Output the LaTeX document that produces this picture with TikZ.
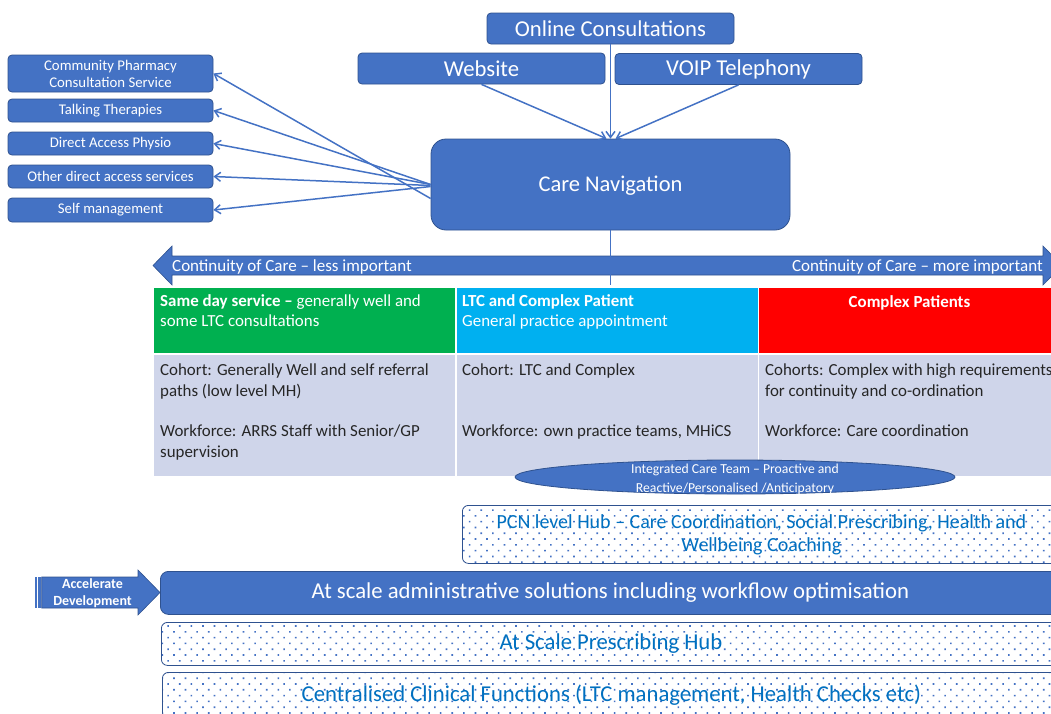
\documentclass[tikz,border=0pt]{standalone}
\usepackage{fontspec}
\setmainfont{Carlito}
\usetikzlibrary{arrows.meta,shapes.geometric,patterns.meta,calc}
\definecolor{mblue}{HTML}{4472C4}
\definecolor{dblue}{HTML}{2F528F}
\definecolor{tblue}{HTML}{0070C0}
\definecolor{cgreen}{HTML}{00B050}
\definecolor{ccyan}{HTML}{00B0F0}
\definecolor{cred}{HTML}{FF0000}
\definecolor{cgray}{HTML}{CFD5EA}
\newcommand{\fsz}[2]{\fontsize{#1}{#2}\selectfont}
\tikzset{
  bluebox/.style={draw=dblue, fill=mblue, rounded corners=4pt, text=white, line width=0.8pt, inner sep=0pt},
  leftbox/.style={bluebox, minimum width=205pt, font=\fsz{14.8}{17}, align=center},
  topbox/.style={bluebox, minimum width=247pt, minimum height=31pt, font=\fsz{22.7}{26}},
  conn/.style={draw=mblue, line width=1.5pt, -{Straight Barb[length=6pt,width=9pt]}},
  plainline/.style={draw=mblue, line width=1.5pt},
  dotbox/.style={draw=dblue, rounded corners=6pt, line width=0.8pt, pattern={Dots[distance=8.2pt,radius=1.15pt,angle=45]}, pattern color=mblue, text=tblue, inner sep=0pt, anchor=north west, align=center},
  celltext/.style={anchor=north west, inner sep=0pt, align=left, font=\fsz{16.9}{20.3}},
  arrowshape/.style={fill=mblue, draw=dblue, line width=0.6pt},
}
\begin{document}
\begin{tikzpicture}[x=1pt,y=-1pt]
\useasboundingbox (0,0) rectangle (1051,713);
\clip (0,0) rectangle (1051,713);

% top boxes
\node[topbox] (oc) at (610.5,28.5) {Online Consultations};
\node[topbox] (ws) at (481.5,68.5) {Website};
\node[topbox] (voip) at (738.5,69) {VOIP Telephony};
\node[bluebox, rounded corners=15pt, minimum width=359pt, minimum height=91pt, font=\fsz{22.5}{26}, text depth=2pt] (cn) at (610.5,184.5) {Care Navigation};

% left boxes
\node[leftbox, minimum height=37pt] (cp) at (110.5,73.5) {Community Pharmacy\\Consultation Service};
\node[leftbox, minimum height=23pt] (tt) at (110.5,110.5) {Talking Therapies};
\node[leftbox, minimum height=23pt] (dap) at (110.5,143.5) {Direct Access Physio};
\node[leftbox, minimum height=23pt] (oda) at (110.5,176.5) {Other direct access services};
\node[leftbox, minimum height=24pt] (sm) at (110.5,210) {Self management};

% connectors
\draw[conn] (oc.south) -- (cn.north);
\draw[conn] (ws.south) -- ([xshift=-4pt]cn.north);
\draw[conn] (voip.south) -- ([xshift=5pt]cn.north);
\draw[conn] ([yshift=-14pt]cn.west) -- (cp.east);
\draw[conn] (cn.west) -- (tt.east);
\draw[conn] (cn.west) -- (dap.east);
\draw[conn] ([yshift=-1pt]cn.west) -- (oda.east);
\draw[conn] ([yshift=-2pt]cn.west) -- (sm.east);

% continuity double arrow
\draw[arrowshape] (153,265.5) -- (172,246) -- (172,256) -- (1043,256) -- (1043,246) -- (1062,265.5) -- (1043,285) -- (1043,275) -- (172,275) -- (172,285) -- cycle;
\node[anchor=base west, inner sep=0pt, text=white, font=\fsz{17}{20}] (cl) at (172,271) {Continuity of Care – less important};
\node[anchor=base east, inner sep=0pt, text=white, font=\fsz{17}{20}] (cr) at (1043,271) {Continuity of Care – more important};
\coordinate (cnd) at (610.5,285);
\draw[plainline] (cn.south) -- (cnd);

% table cells
\fill[cgreen] (154,288) rectangle (455,353);
\fill[ccyan] (456.5,288) rectangle (757.5,353);
\fill[cred] (759,288) rectangle (1060,353);
\fill[cgray] (154,355) rectangle (455,476);
\fill[cgray] (456.5,355) rectangle (757.5,476);
\fill[cgray] (759,355) rectangle (1060,476);

\node[celltext, text=white] (h1) at (160,294.5) {\textbf{Same day service –} generally well and\\some LTC consultations};
\node[celltext, text=white] (h2) at (462,294.5) {\textbf{LTC and Complex Patient}\\General practice appointment};
\node[anchor=base, inner sep=0pt, text=white, font=\bfseries\fsz{16.9}{20}] (h3) at (909.5,307.5) {Complex Patients};

\node[celltext, text=black!85] (b1) at (160,364) {Cohort: Generally Well and self referral\\paths (low level MH)\\[20.3pt]Workforce: ARRS Staff with Senior/GP\\supervision};
\node[celltext, text=black!85] (b2) at (462,364) {Cohort: LTC and Complex\\[20.3pt]\mbox{}\\Workforce: own practice teams, MHiCS};
\node[celltext, text=black!85] (b3) at (765,364) {Cohorts: Complex with high requirements\\for continuity and co-ordination\\[20.3pt]Workforce: Care coordination};

% integrated care team ellipse
\node[ellipse, fill=mblue, draw=dblue, line width=0.8pt, minimum width=440pt, minimum height=34pt, inner sep=0pt] (ict) at (735,477) {};
\node[text=white, font=\fsz{13.7}{19}, align=center, inner sep=0pt] (ictt) at (735,479) {Integrated Care Team – Proactive and\\Reactive/Personalised /Anticipatory};

% PCN hub
\node[dotbox, minimum width=598pt, minimum height=58pt, font=\fsz{20}{23}] (pcn) at (462,505) {PCN level Hub – Care Coordination, Social Prescribing, Health and\\Wellbeing Coaching};

% accelerate development arrow
\draw[arrowshape] (41.7,577) -- (138,577) -- (138,570) -- (160,592.5) -- (138,615) -- (138,608) -- (41.7,608) -- cycle;
\fill[mblue] (35,577) rectangle (36.7,608);
\fill[mblue] (37.7,577) rectangle (40.7,608);
\node[text=white, font=\bfseries\fsz{14}{17}, align=center, inner sep=0pt] (acc) at (92.5,593) {Accelerate\\Development};

% bottom bars
\node[bluebox, rounded corners=8pt, minimum width=900pt, minimum height=43pt, anchor=north west, font=\fsz{22.7}{26}] (adm) at (160,571) {At scale administrative solutions including workflow optimisation};
\node[dotbox, minimum width=899pt, minimum height=43pt, font=\fsz{22.7}{26}] (presc) at (161,622) {At Scale Prescribing Hub};
\node[dotbox, minimum width=898pt, minimum height=46pt, font=\fsz{22.7}{26}] (ccf) at (162,672) {Centralised Clinical Functions (LTC management, Health Checks etc)};
\end{tikzpicture}
\end{document}
